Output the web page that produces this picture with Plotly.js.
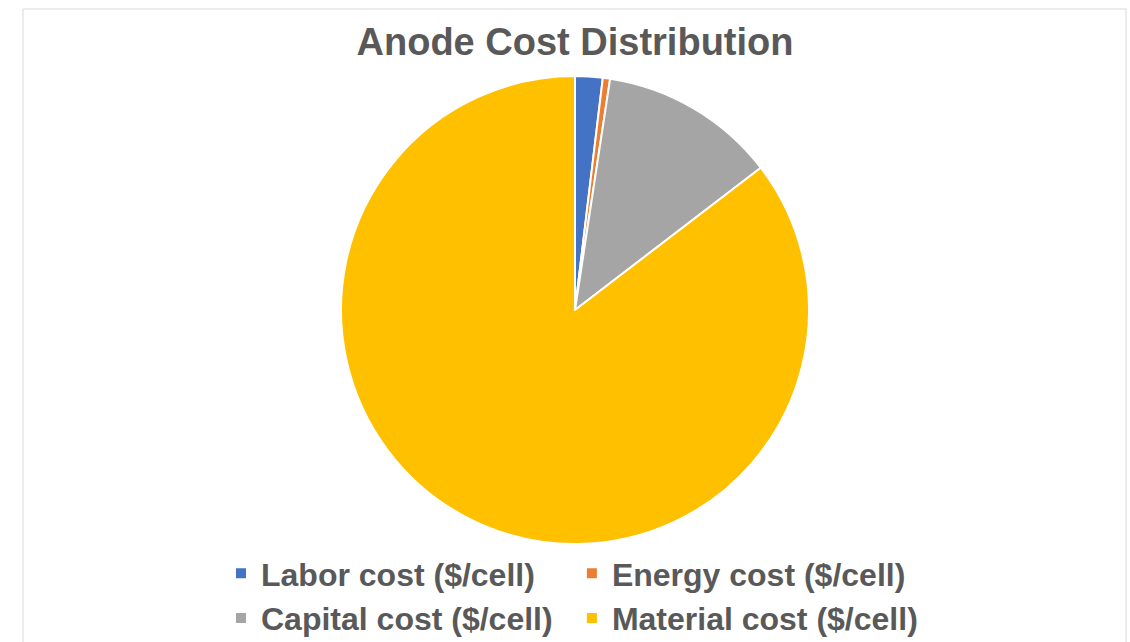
<!DOCTYPE html>
<html>
<head>
<meta charset="utf-8">
<script src="https://cdn.plot.ly/plotly-3.0.1.min.js"></script>
<style>
html,body{margin:0;padding:0;background:#fff;overflow:hidden;}
#wrap{width:1130px;height:642px;overflow:hidden;}
#chart{width:1130px;height:690px;}
</style>
</head>
<body>
<div id="wrap"><div id="chart"></div></div>
<script>
const categories = ["Labor cost ($/cell)", "Energy cost ($/cell)", "Capital cost ($/cell)", "Material cost ($/cell)"];
const costValues = [1.9, 0.5, 12.2, 85.4];
const sliceColors = ["#4472C4", "#ED7D31", "#A5A5A5", "#FFC000"];

const W = 1130, H = 690;
const ML = 221, PW = 800;
const px = v => (v - ML) / PW;
const trace = {
  type: "pie",
  labels: categories,
  values: costValues,
  sort: false,
  direction: "clockwise",
  rotation: 0,
  textinfo: "none",
  hoverinfo: "label+value+percent",
  marker: {colors: sliceColors, line: {color: "#ffffff", width: 2}},
  domain: {x: [px(341), px(809)], y: [1 - 544 / H, 1 - 76 / H]}
};

const layout = {
  width: W, height: H,
  margin: {l: ML, r: W - ML - PW, t: 0, b: 0},
  paper_bgcolor: "#ffffff",
  font: {family: "Liberation Sans, Arial, sans-serif", color: "#595959"},
  title: {
    text: "<b>Anode Cost Distribution</b>",
    font: {size: 38, color: "#595959", family: "Liberation Sans, Arial, sans-serif"},
    x: 575 / W, xanchor: "center", xref: "container",
    y: 1 - 42 / H, yanchor: "middle", yref: "container"
  },
  showlegend: true,
  legend: {
    orientation: "h",
    x: 0, xanchor: "left",
    y: 1 - 546 / H, yanchor: "top",
    font: {size: 32, color: "#595959", family: "Liberation Sans, Arial, sans-serif", weight: "bold"},
    traceorder: "normal",
    tracegroupgap: 0
  },
  shapes: [{
    type: "rect", xref: "paper", yref: "paper",
    x0: px(23), x1: px(1126), y0: 0, y1: 1 - 9 / H,
    line: {color: "#D9D9D9", width: 1}, fillcolor: "rgba(0,0,0,0)"
  }]
};

Plotly.newPlot("chart", [trace], layout, {displayModeBar: false, staticPlot: true});
</script>
</body>
</html>
